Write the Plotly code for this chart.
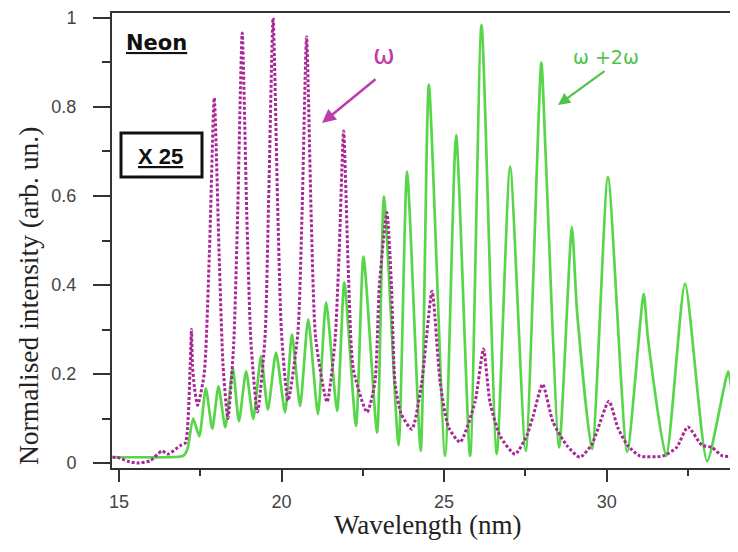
import plotly.graph_objects as go

# ---- data ----
green_x = [14.8, 15.5, 16.51, 16.97, 17.10, 17.28, 17.47, 17.67, 17.87, 18.06, 18.27, 18.50, 18.69,
           18.91, 19.13, 19.37, 19.58, 19.83, 20.11, 20.32, 20.57, 20.82, 21.12, 21.37, 21.71,
           21.93, 22.29, 22.52, 22.94, 23.15, 23.60, 23.86, 24.28, 24.53, 25.03, 25.37, 25.80,
           26.15, 26.62, 27.03, 27.51, 27.99, 28.12, 28.54, 28.93, 29.09, 29.55, 30.04, 30.63,
           31.14, 31.27, 31.83, 32.41, 33.09, 33.74, 33.86, 34.07]
green_y = [0.013, 0.013, 0.013, 0.016, 0.03, 0.10, 0.06, 0.168, 0.077, 0.172, 0.08, 0.213, 0.094,
           0.206, 0.099, 0.24, 0.12, 0.248, 0.114, 0.289, 0.128, 0.323, 0.11, 0.361, 0.117,
           0.406, 0.083, 0.464, 0.068, 0.599, 0.04, 0.655, 0.027, 0.85, 0.016, 0.737, 0.016,
           0.984, 0.02, 0.666, 0.027, 0.9, 0.70, 0.035, 0.53, 0.34, 0.031, 0.643, 0.025,
           0.38, 0.28, 0.016, 0.403, 0.004, 0.206, 0.155, 0.08]

magenta_x = [14.8, 14.94, 15.27, 15.55, 15.96, 16.32, 16.51, 16.88, 17.04, 17.19, 17.23, 17.26, 17.32, 17.42,
             17.62, 17.78, 17.93, 18.08, 18.20, 18.35,
             18.53, 18.65, 18.79, 18.93, 19.06, 19.26,
             19.49, 19.60, 19.74, 19.88, 20.0, 20.20,
             20.50, 20.63, 20.77, 20.91, 21.05, 21.40,
             21.64, 21.77, 21.91, 22.05, 22.21, 22.63,
             22.87, 23.01, 23.24, 23.38, 23.49, 23.68, 24.01,
             24.31, 24.63, 24.88, 25.14, 25.49,
             25.95, 26.21, 26.41, 26.72, 27.18,
             27.54, 27.74, 28.03, 28.35, 28.78, 29.18,
             29.55, 30.07, 30.34, 30.64, 31.02, 31.74, 32.15, 32.50, 32.93, 33.24, 33.56, 34.07]
magenta_y = [0.013, 0.013, 0.004, 0.0, 0.005, 0.027, 0.02, 0.039, 0.045, 0.22, 0.30, 0.22, 0.17, 0.13,
             0.2, 0.47, 0.82, 0.47, 0.22, 0.10,
             0.27, 0.56, 0.966, 0.56, 0.27, 0.115,
             0.28, 0.58, 1.0, 0.58, 0.29, 0.14,
             0.29, 0.56, 0.957, 0.56, 0.28, 0.137,
             0.27, 0.47, 0.746, 0.44, 0.21, 0.114,
             0.18, 0.4, 0.563, 0.4, 0.18, 0.11, 0.076,
             0.18, 0.386, 0.18, 0.08, 0.047,
             0.137, 0.256, 0.137, 0.061, 0.02,
             0.061, 0.106, 0.177, 0.092, 0.039, 0.013,
             0.043, 0.139, 0.08, 0.04, 0.016, 0.016, 0.035, 0.081, 0.04, 0.035, 0.016, 0.016]

x_range = [14.785, 34.04]
y_range = [-0.0112, 1.0112]
y_ticks = [0, 0.2, 0.4, 0.6, 0.8, 1]
y_ticktext = ["0", "0.2", "0.4", "0.6", "0.8", "1"]
x_ticks = [15, 20, 25, 30]
x_ticktext = ["15", "20", "25", "30"]

GREEN = "rgb(88,214,74)"
MAGENTA = "rgb(168,40,150)"
AXIS = "#333333"

# the page body has an 8px margin: the figure is placed at (8, 8) in the 738x552 window
OFF = 8
W, H = 738 - OFF, 552 - 2 * OFF
L, R, T = 112 - OFF, 0, 13 - OFF
B = H - (468 - OFF)
PW, PH = W - L - R, H - T - B


def px(xp):
    return (xp - OFF - L) / PW


def py(yp):
    return (H - B - (yp - OFF)) / PH


fig = go.Figure()
fig.add_trace(go.Scatter(x=green_x, y=green_y, mode="lines",
                         line=dict(color=GREEN, width=2.7, shape="spline", smoothing=0.6),
                         showlegend=False, hoverinfo="skip"))
fig.add_trace(go.Scatter(x=magenta_x, y=magenta_y, mode="lines",
                         line=dict(color=MAGENTA, width=3, dash="3px,2px", shape="spline", smoothing=0.6),
                         showlegend=False, hoverinfo="skip"))

tickfont = dict(family="Liberation Sans, Arial, sans-serif", size=18, color="#444444")
fig.update_xaxes(range=x_range, showgrid=False, zeroline=False, showline=True, linecolor=AXIS,
                 linewidth=2, mirror=True, ticks="outside", ticklen=12, tickwidth=2, tickcolor=AXIS,
                 tickvals=x_ticks, ticktext=x_ticktext, tickfont=tickfont, ticklabelstandoff=4,
                 minor=dict(dtick=2.5, tick0=15, ticklen=6, tickwidth=2, tickcolor=AXIS, ticks="outside"))
fig.update_yaxes(range=y_range, showgrid=False, zeroline=False, showline=True, linecolor=AXIS,
                 linewidth=2, ticks="outside", ticklen=17, tickwidth=2, tickcolor=AXIS,
                 tickvals=y_ticks, ticktext=y_ticktext, tickfont=tickfont, ticklabelstandoff=13,
                 minor=dict(dtick=0.1, tick0=0, ticklen=8, tickwidth=2, tickcolor=AXIS, ticks="outside"))

serif = "Liberation Serif, Times New Roman, serif"
C = dict(xref="paper", yref="paper", xanchor="center", yanchor="middle", showarrow=False)
annotations = [
    dict(text="Wavelength (nm)", x=px(428), y=py(525),
         font=dict(family=serif, size=27, color="#222222"), **C),
    dict(text="Normalised intensity (arb. un.)", x=px(28), y=py(296), textangle=-90,
         font=dict(family=serif, size=27.5, color="#222222"), **C),
    dict(text="<b><u>Neon</u></b>", x=px(156), y=py(43),
         font=dict(family="DejaVu Sans, sans-serif", size=21, color="#111111"), **C),
    dict(text="<b><u>X 25</u></b>", x=px(160), y=py(156),
         font=dict(family="Liberation Sans, Arial, sans-serif", size=22, color="#111111"), **C),
    dict(text="ω", x=px(384), y=py(55),
         font=dict(family="DejaVu Sans, sans-serif", size=26, color="rgb(190,60,170)"), **C),
    dict(text="ω +2ω", x=px(606), y=py(57),
         font=dict(family="DejaVu Sans, sans-serif", size=19, color="rgb(80,195,75)"), **C),
    dict(text="", xref="paper", yref="paper", x=px(322), y=py(123), ax=377 - 322, ay=78 - 123,
         axref="pixel", ayref="pixel", showarrow=True, arrowhead=2, arrowsize=1.1, arrowwidth=2.5,
         arrowcolor="rgb(190,60,170)"),
    dict(text="", xref="paper", yref="paper", x=px(558), y=py(105), ax=606 - 558, ay=70 - 105,
         axref="pixel", ayref="pixel", showarrow=True, arrowhead=2, arrowsize=1.1, arrowwidth=2.2,
         arrowcolor="rgb(80,195,75)"),
]

shapes = [dict(type="rect", xref="paper", yref="paper", x0=px(121), x1=px(202), y0=py(177), y1=py(133),
               line=dict(color="#111111", width=3))]

fig.update_layout(width=W, height=H, margin=dict(l=L, r=R, t=T, b=B, autoexpand=False),
                  paper_bgcolor="white", plot_bgcolor="white",
                  annotations=annotations, shapes=shapes, showlegend=False)

fig.write_html("out.html")
